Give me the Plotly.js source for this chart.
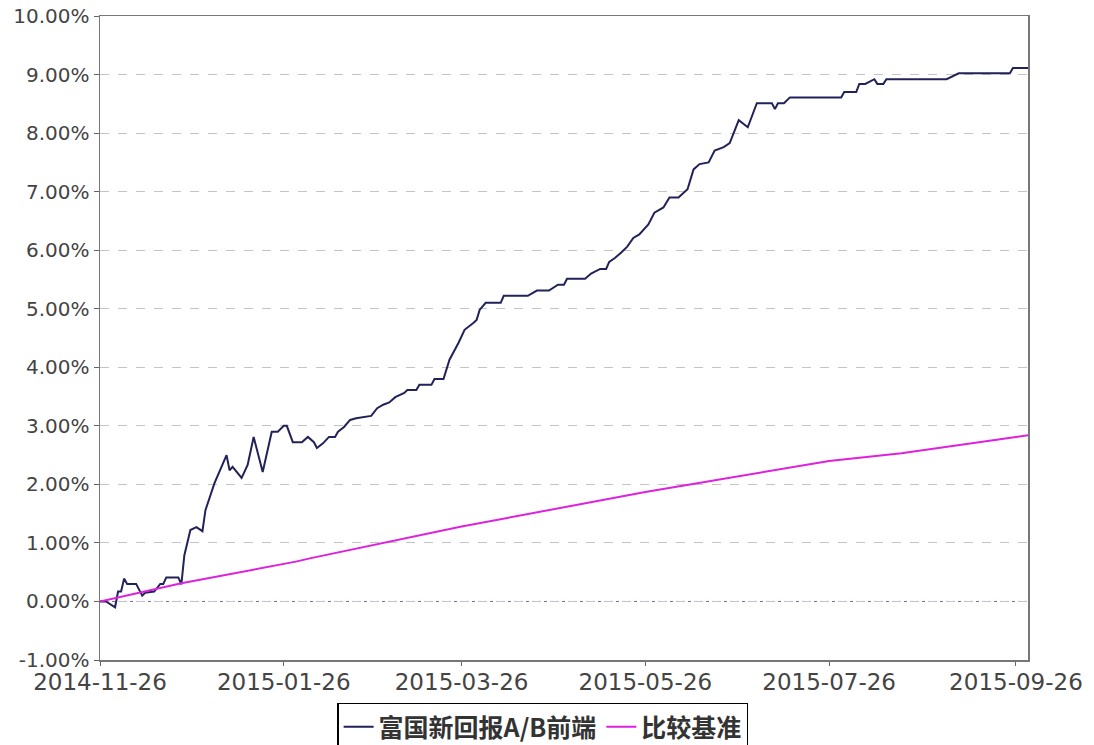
<!DOCTYPE html>
<html><head><meta charset="utf-8">
<script src="https://cdn.plot.ly/plotly-3.0.1.min.js"></script>
<style>html,body{margin:0;padding:0;background:#fff;}#chart{width:1094px;height:745px;}</style>
</head><body><div id="chart"></div>
<script>
var fundName = "富国新回报A/B前端";
var benchName = "比较基准";
var fundDates = ["2014-11-26","2014-11-28","2014-12-01","2014-12-02","2014-12-03","2014-12-04","2014-12-05","2014-12-08","2014-12-10","2014-12-11","2014-12-14","2014-12-16","2014-12-17","2014-12-18","2014-12-22","2014-12-23","2014-12-24","2014-12-26","2014-12-28","2014-12-30","2014-12-31","2015-01-03","2015-01-07","2015-01-08","2015-01-09","2015-01-12","2015-01-14","2015-01-16","2015-01-19","2015-01-22","2015-01-24","2015-01-26","2015-01-27","2015-01-29","2015-02-01","2015-02-03","2015-02-05","2015-02-06","2015-02-08","2015-02-10","2015-02-12","2015-02-13","2015-02-15","2015-02-17","2015-02-19","2015-02-24","2015-02-26","2015-02-28","2015-03-02","2015-03-04","2015-03-07","2015-03-08","2015-03-11","2015-03-12","2015-03-16","2015-03-17","2015-03-20","2015-03-21","2015-03-22","2015-03-25","2015-03-27","2015-03-30","2015-03-31","2015-04-01","2015-04-03","2015-04-08","2015-04-09","2015-04-17","2015-04-20","2015-04-24","2015-04-27","2015-04-29","2015-04-30","2015-05-06","2015-05-08","2015-05-11","2015-05-13","2015-05-14","2015-05-16","2015-05-18","2015-05-20","2015-05-22","2015-05-24","2015-05-27","2015-05-29","2015-06-01","2015-06-03","2015-06-06","2015-06-09","2015-06-11","2015-06-13","2015-06-16","2015-06-18","2015-06-21","2015-06-23","2015-06-26","2015-06-29","2015-07-02","2015-07-07","2015-07-08","2015-07-09","2015-07-11","2015-07-13","2015-07-30","2015-07-31","2015-08-04","2015-08-05","2015-08-07","2015-08-10","2015-08-11","2015-08-13","2015-08-14","2015-09-03","2015-09-07","2015-09-24","2015-09-25","2015-09-30"];
var fundValues = [0.00,0.00,-0.10,0.17,0.17,0.39,0.30,0.30,0.10,0.15,0.17,0.30,0.30,0.41,0.41,0.29,0.79,1.22,1.27,1.20,1.56,2.02,2.50,2.24,2.30,2.11,2.33,2.81,2.21,2.90,2.90,3.00,3.00,2.72,2.72,2.81,2.72,2.62,2.70,2.81,2.81,2.90,2.98,3.10,3.13,3.17,3.30,3.36,3.40,3.49,3.56,3.61,3.61,3.70,3.70,3.80,3.80,3.96,4.13,4.42,4.64,4.76,4.81,4.98,5.10,5.10,5.22,5.22,5.31,5.31,5.41,5.41,5.51,5.51,5.60,5.68,5.68,5.80,5.87,5.96,6.06,6.21,6.27,6.44,6.64,6.73,6.90,6.90,7.04,7.38,7.47,7.50,7.70,7.76,7.83,8.22,8.10,8.51,8.51,8.41,8.51,8.51,8.61,8.61,8.70,8.70,8.84,8.84,8.92,8.84,8.84,8.92,8.92,9.02,9.02,9.11,9.11];
var benchDates = ["2014-11-26","2014-12-23","2015-01-30","2015-02-04","2015-03-26","2015-05-26","2015-07-26","2015-08-19","2015-09-26","2015-09-30"];
var benchValues = [0.00,0.31,0.68,0.74,1.28,1.87,2.40,2.53,2.81,2.84];
var xTickVals = ["2014-11-26","2015-01-26","2015-03-26","2015-05-26","2015-07-26","2015-09-26"];
var yTickVals = [-1,0,1,2,3,4,5,6,7,8,9,10];
var yTickText = yTickVals.map(function(v){ return v.toFixed(2) + "%"; });

var traces = [
  {x: fundDates, y: fundValues, name: fundName, type: "scatter", mode: "lines",
   line: {color: "#22225a", width: 2}},
  {x: benchDates, y: benchValues, name: benchName, type: "scatter", mode: "lines",
   line: {color: "#dd22dd", width: 2}}
];
var layout = {
  width: 1094, height: 745,
  margin: {l: 100, r: 66, t: 16, b: 85, autoexpand: false},
  paper_bgcolor: "#ffffff", plot_bgcolor: "#ffffff",
  font: {family: "DejaVu Sans", size: 20, color: "#444"},
  showlegend: true,
  legend: {orientation: "h", x: 0.496, xanchor: "center", xref: "container",
           y: 0.057, yanchor: "top", yref: "container",
           bordercolor: "#000", borderwidth: 1.5, bgcolor: "#fff",
           font: {family: "Noto Sans CJK SC", size: 25, color: "#333", weight: "bold"},
           itemwidth: 30, tracegroupgap: 0},
  xaxis: {type: "date", range: ["2014-11-26", "2015-09-30"], tickvals: xTickVals,
          tickformat: "%Y-%m-%d", ticks: "outside", ticklen: 4, tickcolor: "#666",
          ticklabelstandoff: -3,
          showgrid: false, showline: true, linecolor: "#777", linewidth: 1.5, mirror: true,
          zeroline: false, tickfont: {family: "DejaVu Sans", size: 23, color: "#444"}, fixedrange: true},
  yaxis: {range: [-1, 10], tickvals: yTickVals, ticktext: yTickText,
          ticks: "outside", ticklen: 5, tickcolor: "#666",
          showgrid: true, gridcolor: "#c4c4c4", griddash: "dash", gridwidth: 1,
          showline: true, linecolor: "#777", linewidth: 1.5, mirror: true,
          zeroline: false, tickfont: {family: "DejaVu Sans", size: 20, color: "#444"}, fixedrange: true},
  shapes: [{type: "line", xref: "paper", x0: 0, x1: 1, yref: "y", y0: 0, y1: 0,
            line: {color: "#6a6ab0", width: 1, dash: "dot"}, layer: "below"}]
};
Plotly.newPlot("chart", traces, layout, {displayModeBar: false, staticPlot: true});
</script></body></html>
